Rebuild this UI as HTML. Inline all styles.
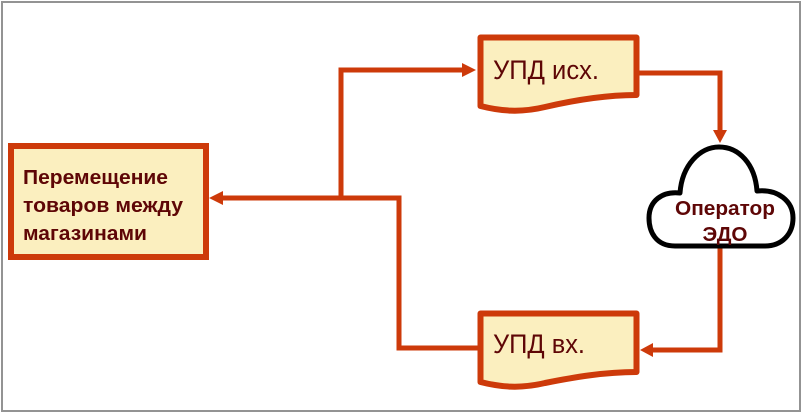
<!DOCTYPE html>
<html>
<head>
<meta charset="utf-8">
<style>
  html, body { margin: 0; padding: 0; background: #fff; }
  body { width: 802px; height: 413px; overflow: hidden; }
  svg { display: block; }
  text { font-family: "Liberation Sans", "DejaVu Sans", sans-serif; fill: #5e0606; }
</style>
</head>
<body>
<svg width="802" height="413" viewBox="0 0 802 413" xmlns="http://www.w3.org/2000/svg">
  <rect x="0" y="0" width="802" height="413" fill="#fff"/>
  <rect x="2" y="2" width="798" height="409" fill="none" stroke="#939393" stroke-width="2"/>

  <g stroke="#cd3a0a" stroke-width="5" fill="none" stroke-linejoin="miter" stroke-linecap="square">
    <polyline points="399,198 222,198"/>
    <polyline points="341,198 341,70 463,70"/>
    <polyline points="639,73 720,73 720,131"/>
    <polyline points="720,248 720,350 652,350"/>
    <polyline points="477,348 399,348 399,198"/>
  </g>
  <g fill="#cd3a0a">
    <polygon points="209,198 223,191 223,205"/>
    <polygon points="476,70 462,63 462,77"/>
    <polygon points="720,143 713,130 727,130"/>
    <polygon points="640,350 653,343 653,357"/>
  </g>

  <!-- left box -->
  <rect x="11" y="146" width="195" height="111" fill="#fbefbf" stroke="#cd3a0a" stroke-width="6"/>
  <text x="23" y="184" font-size="20" font-weight="bold" textLength="145" lengthAdjust="spacingAndGlyphs">Перемещение</text>
  <text x="23" y="212" font-size="20" font-weight="bold" textLength="160" lengthAdjust="spacingAndGlyphs">товаров между</text>
  <text x="23" y="240" font-size="20" font-weight="bold" textLength="124" lengthAdjust="spacingAndGlyphs">магазинами</text>

  <!-- upper doc -->
  <path d="M480.5,37.5 L636.5,37.5 L636.5,95 C605,95 575,100 545,107 C520,113 500,111 480.5,106 Z" fill="#fbefbf" stroke="#cd3a0a" stroke-width="6" stroke-linejoin="round"/>
  <text x="493" y="79" font-size="27" textLength="106" lengthAdjust="spacingAndGlyphs">УПД исх.</text>

  <!-- lower doc -->
  <path d="M480.5,313.5 L636.5,313.5 L636.5,372 C605,372 575,377 545,383 C520,389 500,387 480.5,382 Z" fill="#fbefbf" stroke="#cd3a0a" stroke-width="6" stroke-linejoin="round"/>
  <text x="493" y="353" font-size="27" textLength="92" lengthAdjust="spacingAndGlyphs">УПД вх.</text>

  <!-- cloud -->
  <path d="M675,246 C656,246 649,232 649,218 C649,201 662,191 680,193 C682,165 700,147 719,147 C739,147 755,164 757,191 C778,189 793,201 793,218 C793,234 782,246 765,246 Z" fill="#fff" stroke="#000" stroke-width="5" stroke-linejoin="round"/>
  <text x="725" y="215" font-size="20" font-weight="bold" text-anchor="middle" textLength="100" lengthAdjust="spacingAndGlyphs">Оператор</text>
  <text x="725" y="241" font-size="20" font-weight="bold" text-anchor="middle" textLength="45" lengthAdjust="spacingAndGlyphs">ЭДО</text>
</svg>
</body>
</html>
